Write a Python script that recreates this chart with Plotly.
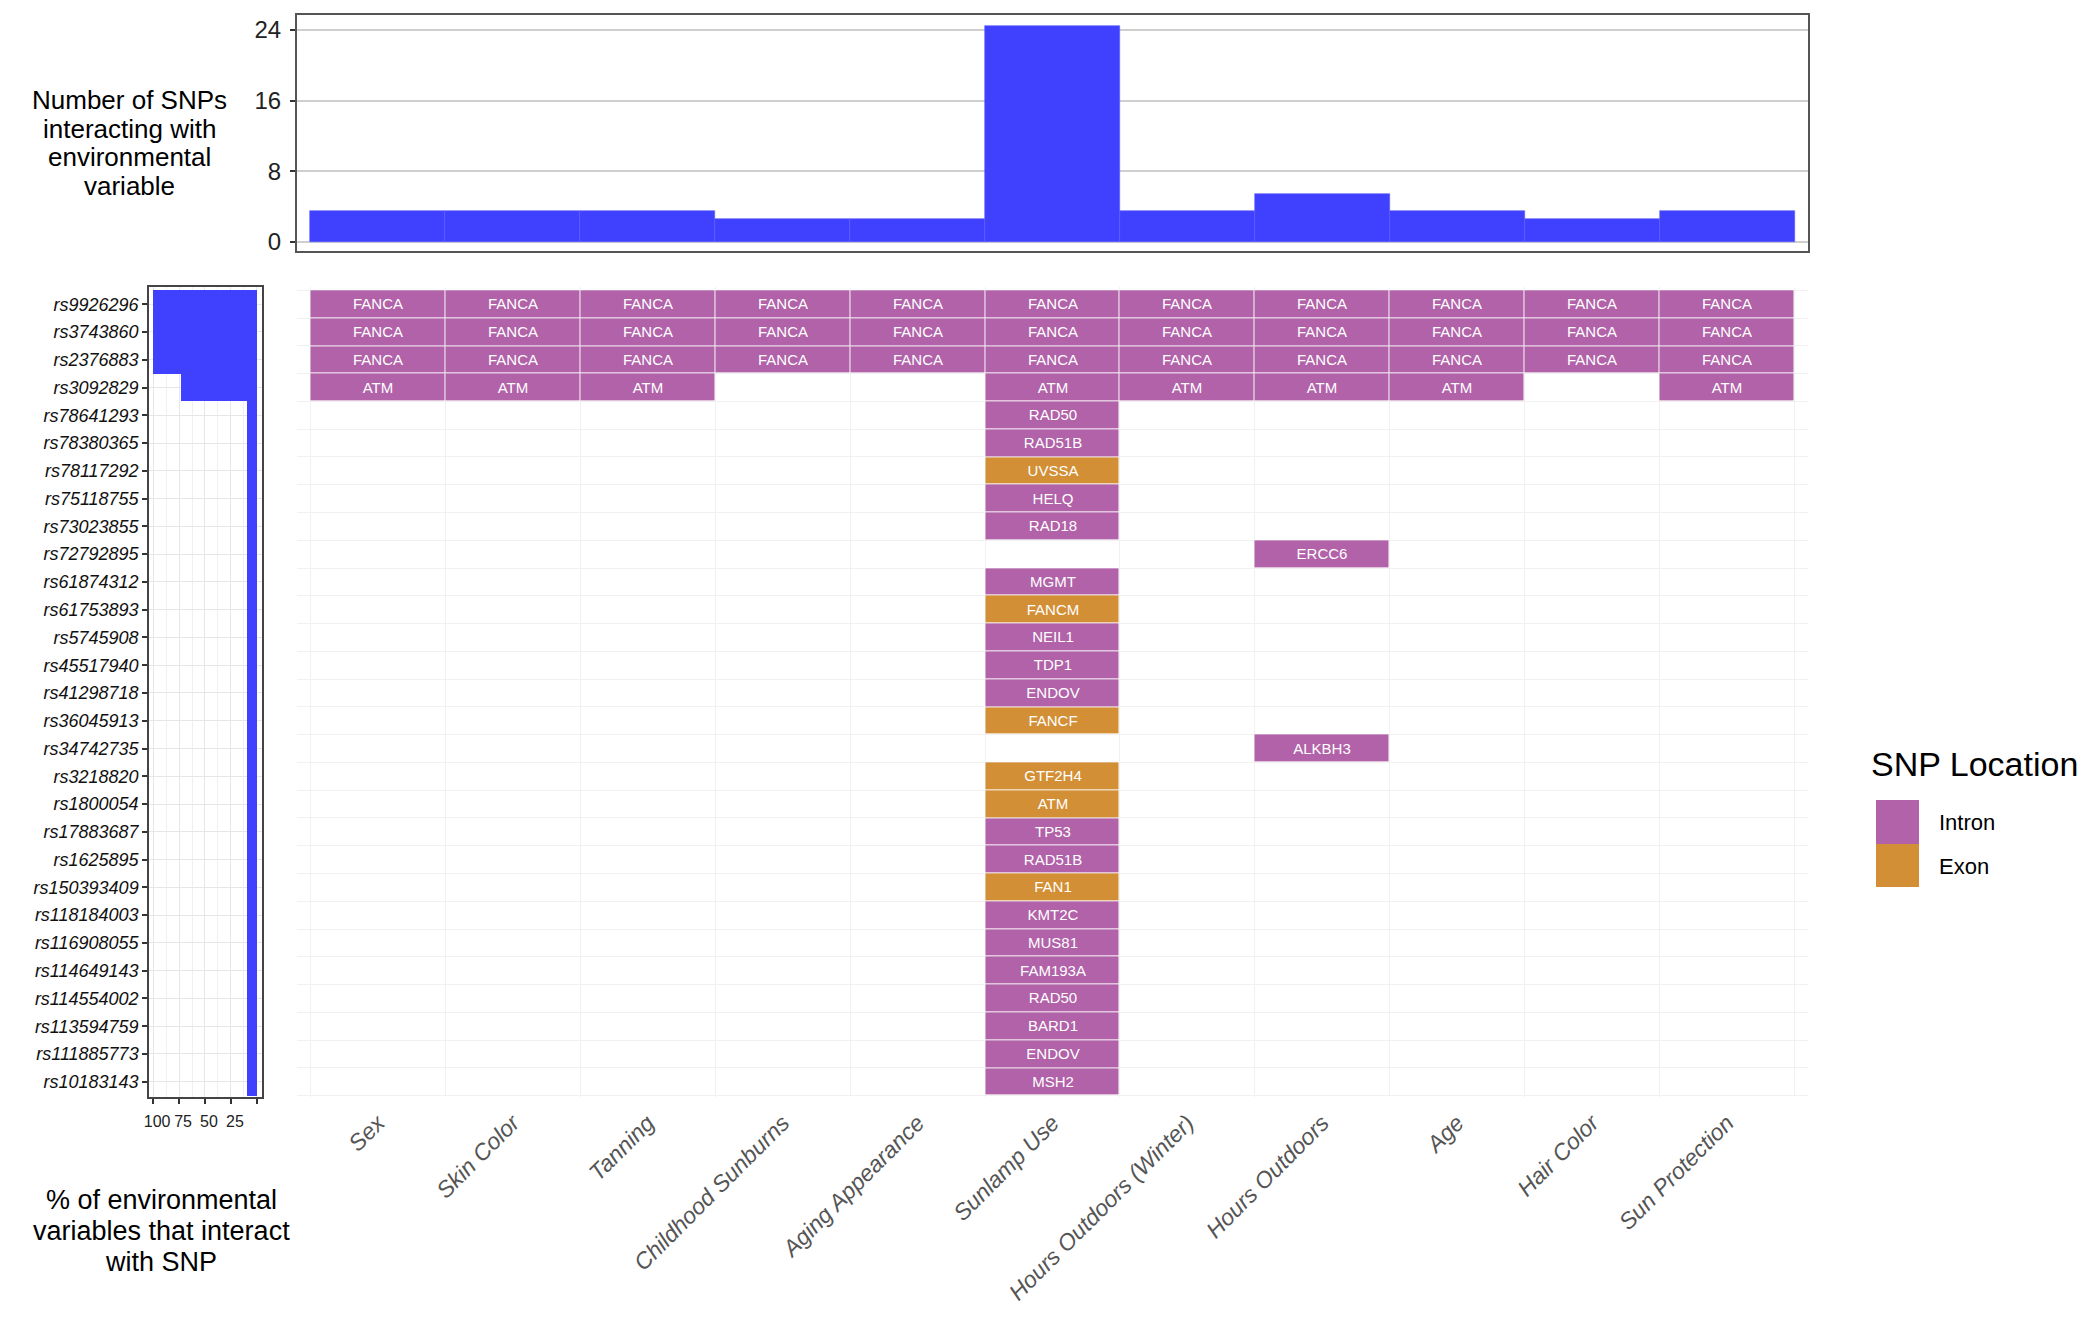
import plotly.graph_objects as go

# ---------------- data ----------------
env_vars = ["Sex", "Skin Color", "Tanning", "Childhood Sunburns", "Aging Appearance",
            "Sunlamp Use", "Hours Outdoors (Winter)", "Hours Outdoors", "Age",
            "Hair Color", "Sun Protection"]

# number of SNPs interacting with each environmental variable (as drawn in the top bar panel)
n_snps = [3.5, 3.5, 3.5, 2.6, 2.6, 24.5, 3.5, 5.4, 3.5, 2.6, 3.5]

snps = ["rs9926296", "rs3743860", "rs2376883", "rs3092829", "rs78641293", "rs78380365",
        "rs78117292", "rs75118755", "rs73023855", "rs72792895", "rs61874312", "rs61753893",
        "rs5745908", "rs45517940", "rs41298718", "rs36045913", "rs34742735", "rs3218820",
        "rs1800054", "rs17883687", "rs1625895", "rs150393409", "rs118184003", "rs116908055",
        "rs114649143", "rs114554002", "rs113594759", "rs111885773", "rs10183143"]

genes = ["FANCA", "FANCA", "FANCA", "ATM", "RAD50", "RAD51B", "UVSSA", "HELQ", "RAD18",
         "ERCC6", "MGMT", "FANCM", "NEIL1", "TDP1", "ENDOV", "FANCF", "ALKBH3", "GTF2H4",
         "ATM", "TP53", "RAD51B", "FAN1", "KMT2C", "MUS81", "FAM193A", "RAD50", "BARD1",
         "ENDOV", "MSH2"]

location = ["Intron", "Intron", "Intron", "Intron", "Intron", "Intron", "Exon", "Intron",
            "Intron", "Intron", "Intron", "Exon", "Intron", "Intron", "Intron", "Exon",
            "Intron", "Exon", "Exon", "Intron", "Intron", "Exon", "Intron", "Intron",
            "Intron", "Intron", "Intron", "Intron", "Intron"]

ALL = env_vars
ATM_ENVS = ["Sex", "Skin Color", "Tanning", "Sunlamp Use", "Hours Outdoors (Winter)",
            "Hours Outdoors", "Age", "Sun Protection"]
SUN = ["Sunlamp Use"]
HRS = ["Hours Outdoors"]
snp_envs = [ALL, ALL, ALL, ATM_ENVS, SUN, SUN, SUN, SUN, SUN, HRS, SUN, SUN, SUN, SUN,
            SUN, SUN, HRS, SUN, SUN, SUN, SUN, SUN, SUN, SUN, SUN, SUN, SUN, SUN, SUN]

# % of environmental variables that interact with each SNP
pct_env = [100, 100, 100, 72.7, 9.1, 9.1, 9.1, 9.1, 9.1, 9.1, 9.1, 9.1, 9.1, 9.1, 9.1,
           9.1, 9.1, 9.1, 9.1, 9.1, 9.1, 9.1, 9.1, 9.1, 9.1, 9.1, 9.1, 9.1, 9.1]

top_title_lines = ["Number of SNPs", "interacting with", "environmental", "variable"]
left_title_lines = ["% of environmental", "variables that interact", "with SNP"]

loc_code = {"Intron": 0, "Exon": 1}
INTRON_C = "#B162A9"
EXON_C = "#D38F35"
BLUE = "#4040FF"
FONT = "Liberation Sans"

# ---------------- helpers ----------------
W, H = 2100, 1329
def fx(p):
    return p / W
def fy(p):
    return 1 - p / H

n_env = len(env_vars)
n_snp = len(snps)
xs = list(range(1, n_env + 1))
ys = list(range(1, n_snp + 1))

z = []
txt = []
for i in range(n_snp):
    zr, tr = [], []
    for e in env_vars:
        if e in snp_envs[i]:
            zr.append(loc_code[location[i]])
            tr.append(genes[i])
        else:
            zr.append(None)
            tr.append("")
    z.append(zr)
    txt.append(tr)

fig = go.Figure()

# top bar panel
fig.add_trace(go.Bar(x=xs, y=n_snps, width=1, marker=dict(color=BLUE, line=dict(width=0.6, color="#5a5aff")),
                     xaxis="x", yaxis="y", showlegend=False, hoverinfo="skip"))

# tile panel
fig.add_trace(go.Heatmap(x=xs, y=ys, z=z, text=txt, texttemplate="%{text}",
                         textfont=dict(family=FONT, size=15, color="white"),
                         colorscale=[[0, INTRON_C], [0.5, INTRON_C], [0.5, EXON_C], [1, EXON_C]],
                         zmin=0, zmax=1, showscale=False, xgap=1, ygap=1,
                         xaxis="x2", yaxis="y2", hoverinfo="skip"))

# left percentage panel
fig.add_trace(go.Bar(x=pct_env, y=ys, orientation="h", width=1, marker=dict(color=BLUE, line=dict(width=0)),
                     xaxis="x3", yaxis="y3", showlegend=False, hoverinfo="skip"))

main_x = [fx(297), fx(1808)]
top_y = [fy(251), fy(15)]
tile_y = [fy(1097), fy(287)]
left_x = [fx(149), fx(262)]
row_range = [29.55, 0.38]
col_range = [0.4, 11.6]

fig.update_layout(
    width=W, height=H, margin=dict(l=0, r=0, t=0, b=0, autoexpand=False),
    paper_bgcolor="white", plot_bgcolor="white",
    font=dict(family=FONT, color="black"),
    bargap=0, showlegend=False,
    xaxis=dict(domain=main_x, anchor="y", range=col_range, showticklabels=False, showgrid=False,
               automargin=False,
               zeroline=False, showline=True, mirror=True, linecolor="#555", linewidth=2, ticks=""),
    yaxis=dict(domain=top_y, anchor="x", range=[-1.05, 25.7], tickvals=[0, 8, 16, 24],
               automargin=False,
               ticks="outside", ticklen=5, tickcolor="#333", tickwidth=1.5, ticklabelstandoff=4,
               tickfont=dict(size=24, color="#222"), showgrid=True, gridcolor="#cfcfcf", gridwidth=2,
               zeroline=False, showline=True, mirror=True, linecolor="#555", linewidth=2),
    xaxis2=dict(domain=main_x, anchor="y2", range=col_range, tickmode="array", tickvals=xs,
                automargin=False,
                ticktext=["<i>" + e + "</i>" for e in env_vars], tickangle=-45,
                tickfont=dict(size=23, color="#555"), ticks="", ticklabelstandoff=7,
                showgrid=False, zeroline=False, showline=False,
                minor=dict(tickmode="array", tickvals=[v + 0.5 for v in range(0, n_env + 1)],
                           showgrid=True, gridcolor="#f1f1f1", gridwidth=1, ticks="")),
    yaxis2=dict(domain=tile_y, anchor="x2", range=row_range, showticklabels=False, showgrid=False,
                automargin=False,
                zeroline=False, showline=False, ticks="",
                minor=dict(tickmode="array", tickvals=[v + 0.5 for v in range(0, n_snp + 1)],
                           showgrid=True, gridcolor="#f1f1f1", gridwidth=1, ticks="")),
    xaxis3=dict(domain=left_x, anchor="y3", range=[104, -5], tickmode="array",
                automargin=False,
                tickvals=[100, 75, 50, 25, 0], ticktext=["100", "75", "50", "25", ""],
                ticks="outside", ticklen=5, tickcolor="#333", tickwidth=1.5,
                tickfont=dict(size=16, color="#222"), ticklabelshift=-4, ticklabelstandoff=4,
                showgrid=True, gridcolor="#e6e6e6", gridwidth=1.2, zeroline=False,
                showline=True, mirror=True, linecolor="#444", linewidth=1.5,
                minor=dict(tickmode="array", tickvals=[87.5, 62.5, 37.5, 12.5],
                           showgrid=True, gridcolor="#f0f0f0", gridwidth=1, ticks="")),
    yaxis3=dict(domain=tile_y, anchor="x3", range=row_range, tickmode="array", tickvals=ys,
                automargin=False,
                ticktext=["<i>" + s + "</i>" for s in snps], ticks="outside", ticklen=5,
                tickcolor="#333", tickwidth=1.5, tickfont=dict(size=18, color="#111"),
                showgrid=True, gridcolor="#e6e6e6", gridwidth=1.2, zeroline=False,
                showline=True, mirror=True, linecolor="#444", linewidth=1.5),
)

annotations = []
for line, yp in zip(top_title_lines, [100, 129, 157, 186]):
    annotations.append(dict(text=line, x=fx(129), y=fy(yp), xref="paper", yref="paper",
                            showarrow=False, xanchor="center", yanchor="middle",
                            font=dict(size=26, color="black")))
for line, yp in zip(left_title_lines, [1200, 1231, 1262]):
    annotations.append(dict(text=line, x=fx(161), y=fy(yp), xref="paper", yref="paper",
                            showarrow=False, xanchor="center", yanchor="middle",
                            font=dict(size=27, color="black")))
annotations += [
    dict(text="SNP Location", x=fx(1869), y=fy(764), xref="paper", yref="paper", showarrow=False,
         xanchor="left", yanchor="middle", font=dict(size=34, color="black")),
    dict(text="Intron", x=fx(1937), y=fy(822), xref="paper", yref="paper", showarrow=False,
         xanchor="left", yanchor="middle", font=dict(size=22, color="black")),
    dict(text="Exon", x=fx(1937), y=fy(866), xref="paper", yref="paper", showarrow=False,
         xanchor="left", yanchor="middle", font=dict(size=22, color="black")),
]
fig.update_layout(annotations=annotations)

shapes = [
    dict(type="rect", xref="paper", yref="paper", x0=fx(1876), x1=fx(1919), y0=fy(844), y1=fy(800),
         fillcolor=INTRON_C, line=dict(width=0)),
    dict(type="rect", xref="paper", yref="paper", x0=fx(1876), x1=fx(1919), y0=fy(887), y1=fy(844),
         fillcolor=EXON_C, line=dict(width=0)),
]
fig.update_layout(shapes=shapes)

fig.write_html("out.html")
